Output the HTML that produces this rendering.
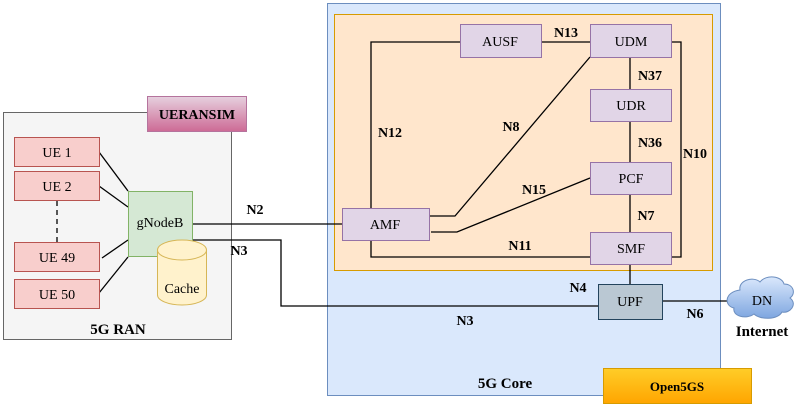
<!DOCTYPE html>
<html><head><meta charset="utf-8"><style>html,body{margin:0;padding:0;background:#fff}svg{display:block}</style></head><body>
<svg width="797" height="409" viewBox="0 0 797 409" xmlns="http://www.w3.org/2000/svg" font-family="Liberation Serif, serif">
<defs>
<linearGradient id="g1" x1="0" y1="0" x2="0" y2="1"><stop offset="0" stop-color="#e6d0de"/><stop offset="1" stop-color="#cd6a95"/></linearGradient>
<linearGradient id="g2" x1="0" y1="0" x2="0" y2="1"><stop offset="0" stop-color="#ffcd28"/><stop offset="1" stop-color="#ffa500"/></linearGradient>
<linearGradient id="g3" x1="0" y1="0" x2="0" y2="1"><stop offset="0" stop-color="#dae8fc"/><stop offset="1" stop-color="#7ea6e0"/></linearGradient>
</defs>
<!-- RAN -->
<rect x="3.5" y="112.5" width="228" height="227" fill="#f5f5f5" stroke="#666"/>
<rect x="147.5" y="96.5" width="99" height="35" fill="url(#g1)" stroke="#b5739d"/>
<text x="197" y="119" text-anchor="middle" font-weight="bold" font-size="14">UERANSIM</text>
<!-- Core -->
<rect x="327.5" y="3.5" width="393" height="392" fill="#dae8fc" stroke="#6c8ebf"/>
<rect x="334.5" y="14.5" width="378" height="256" fill="#ffe6cc" stroke="#d79b00"/>
<g stroke="#000" stroke-width="1.3" fill="none">
<line x1="99" y1="152" x2="128" y2="191"/>
<line x1="99" y1="186" x2="128" y2="207"/>
<line x1="102" y1="258" x2="128" y2="240"/>
<line x1="99" y1="293" x2="128" y2="257"/>
<line x1="57" y1="201" x2="57" y2="242" stroke-dasharray="5,4"/>
<line x1="192" y1="224" x2="342" y2="224"/>
<polyline points="192,240 281,240 281,306 598,306"/>
<polyline points="460,42 371,42 371,208"/>
<polyline points="371,240 371,257 590,257"/>
<polyline points="541,42 590,42"/>
<polyline points="671,42 681,42 681,257 671,257"/>
<polyline points="429,216 455,216 590,57"/>
<polyline points="431,232 457,232 590,178"/>
<line x1="630" y1="57" x2="630" y2="89"/>
<line x1="630" y1="121" x2="630" y2="162"/>
<line x1="630" y1="194" x2="630" y2="232"/>
<line x1="630" y1="264" x2="630" y2="284"/>
<line x1="662" y1="301" x2="735" y2="301"/>
</g>
<g font-size="14" text-anchor="middle">
<g fill="#f8cecc" stroke="#b85450">
<rect x="14.5" y="137.5" width="85" height="29"/><rect x="14.5" y="171.5" width="85" height="29"/>
<rect x="14.5" y="242.5" width="85" height="29"/><rect x="14.5" y="279.5" width="85" height="29"/>
</g>
<text x="57" y="157">UE 1</text><text x="57" y="191">UE 2</text><text x="57" y="262">UE 49</text><text x="57" y="299">UE 50</text>
<rect x="128.5" y="191.5" width="64" height="65" fill="#d5e8d4" stroke="#82b366"/>
<text x="160" y="227">gNodeB</text>
<path d="M157.5,250 v45 a24.5,10 0 0 0 49,0 v-45" fill="#fff2cc" stroke="#d6b656"/>
<ellipse cx="182" cy="250" rx="24.5" ry="10" fill="#fff2cc" stroke="#d6b656"/>
<text x="182" y="293">Cache</text>
<g fill="#e1d5e7" stroke="#9673a6">
<rect x="460.5" y="24.5" width="81" height="33"/><rect x="590.5" y="24.5" width="81" height="33"/>
<rect x="590.5" y="89.5" width="81" height="32"/><rect x="590.5" y="162.5" width="81" height="32"/>
<rect x="590.5" y="232.5" width="81" height="32"/><rect x="342.5" y="208.5" width="87" height="32"/>
</g>
<text x="500" y="46">AUSF</text><text x="631" y="46">UDM</text><text x="631" y="110">UDR</text>
<text x="631" y="183">PCF</text><text x="631" y="253">SMF</text><text x="385" y="229">AMF</text>
<rect x="598.5" y="284.5" width="64" height="35" fill="#bac8d3" stroke="#23445d"/>
<text x="630" y="306">UPF</text>
<path d="M740,290 c-2,-10 14,-14 20,-8 c6,-8 22,-6 24,2 c10,0 12,10 6,14 c8,6 0,16 -8,14 c-4,8 -22,8 -28,2 c-8,6 -22,2 -20,-6 c-10,-2 -10,-16 6,-18 z" fill="url(#g3)" stroke="#6c8ebf"/>
<text x="762" y="305">DN</text>
<rect x="603.5" y="368.5" width="148" height="35" fill="url(#g2)" stroke="#d79b00"/>
</g>
<g font-size="14" font-weight="bold" text-anchor="middle">
<text x="677" y="391" font-size="13">Open5GS</text>
<text x="762" y="336" font-size="15">Internet</text>
<text x="118" y="334" font-size="15">5G RAN</text>
<text x="505" y="388" font-size="15">5G Core</text>
<text x="255" y="214">N2</text><text x="239" y="255">N3</text><text x="465" y="325">N3</text>
<text x="578" y="292">N4</text><text x="695" y="318">N6</text><text x="520" y="250">N11</text>
<text x="646" y="220">N7</text><text x="650" y="147">N36</text><text x="650" y="80">N37</text>
<text x="695" y="158">N10</text><text x="390" y="137">N12</text><text x="511" y="131">N8</text>
<text x="534" y="194">N15</text><text x="566" y="37">N13</text>
</g>
</svg>
</body></html>
